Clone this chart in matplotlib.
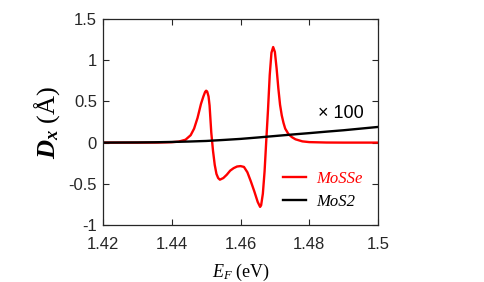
import matplotlib
matplotlib.use('Agg')
import matplotlib.pyplot as plt

# MoSSe 曲线
ef_mosse = [1.420, 1.430, 1.436, 1.440, 1.442, 1.444, 1.4455, 1.4465, 1.4475, 1.4485,
            1.4492, 1.4497, 1.450, 1.4503, 1.4507, 1.451, 1.4515, 1.452, 1.4525, 1.453,
            1.4535, 1.454, 1.455, 1.456, 1.457, 1.458, 1.459, 1.460, 1.461, 1.462,
            1.463, 1.464, 1.465, 1.4657, 1.466, 1.4665, 1.467, 1.4675, 1.468,
            1.4685, 1.469, 1.4695, 1.470, 1.4705, 1.471, 1.4715, 1.472, 1.4725, 1.473,
            1.474, 1.475, 1.476, 1.478, 1.480, 1.485, 1.490, 1.500]
dx_mosse = [0.0, 0.0, 0.001, 0.005, 0.012, 0.035, 0.09, 0.17, 0.30, 0.47,
            0.56, 0.615, 0.63, 0.62, 0.56, 0.45, 0.12, -0.10, -0.27, -0.38,
            -0.43, -0.45, -0.43, -0.39, -0.34, -0.31, -0.29, -0.285, -0.295, -0.36,
            -0.47, -0.59, -0.72, -0.78, -0.76, -0.62, -0.35, 0.03, 0.40,
            0.82, 1.09, 1.16, 1.10, 0.90, 0.66, 0.46, 0.33, 0.24, 0.17,
            0.10, 0.065, 0.04, 0.015, 0.006, 0.001, 0.0, 0.0]

# MoS2 曲线 (x100)
ef_mos2 = [1.420, 1.425, 1.430, 1.435, 1.440, 1.445, 1.450, 1.455, 1.460, 1.465,
           1.470, 1.475, 1.480, 1.485, 1.490, 1.495, 1.500]
dx_mos2 = [0.0, 0.001, 0.002, 0.004, 0.008, 0.013, 0.02, 0.032, 0.045, 0.062,
           0.08, 0.098, 0.115, 0.133, 0.15, 0.17, 0.19]

xticks = [1.42, 1.44, 1.46, 1.48, 1.5]
xtick_labels = ['1.42', '1.44', '1.46', '1.48', '1.5']
yticks = [-1, -0.5, 0, 0.5, 1, 1.5]
ytick_labels = ['-1', '-0.5', '0', '0.5', '1', '1.5']

plt.rcParams['font.family'] = ['Liberation Sans', 'DejaVu Sans']
plt.rcParams['mathtext.fontset'] = 'custom'
plt.rcParams['mathtext.rm'] = 'Liberation Serif'
plt.rcParams['mathtext.it'] = 'Liberation Serif:italic'
plt.rcParams['mathtext.bf'] = 'Liberation Serif:italic:bold'

fig = plt.figure(figsize=(4.85, 2.82), dpi=100)
ax = fig.add_axes([0.2124, 0.2021, 0.567, 0.7305])

ax.plot(ef_mosse, dx_mosse, color='#ff0000', lw=1.7, label='MoSSe')
ax.plot(ef_mos2, dx_mos2, color='black', lw=1.7, label='MoS2')

ax.set_xlim(1.42, 1.5)
ax.set_ylim(-1, 1.5)
ax.set_xticks(xticks)
ax.set_xticklabels(xtick_labels)
ax.set_yticks(yticks)
ax.set_yticklabels(ytick_labels)
ax.tick_params(direction='in', top=True, right=True, length=4, width=0.8,
               labelsize=12, colors='#262626')
ax.tick_params(axis='x', pad=8.5)
ax.tick_params(axis='y', pad=4.3)
for s in ax.spines.values():
    s.set_linewidth(0.9)
    s.set_color('#262626')

ax.text(1.4826, 0.245, '× 100', fontsize=13, ha='left', va='bottom')

ax.set_xlabel(r'$\mathit{E}_{\mathit{F}}\ \mathrm{(eV)}$', fontsize=13, labelpad=7)
ax.set_ylabel(r'$\mathbf{D}_{\mathbf{x}}\ \mathrm{(Å)}$', fontsize=19, labelpad=5)

ax.legend(loc='center left', bbox_to_anchor=(0.655, 0.167), frameon=False,
          borderpad=0, borderaxespad=0, handlelength=1.4, handletextpad=0.6,
          labelspacing=0.4, labelcolor=['#ff0000', 'black'],
          prop={'family': 'Liberation Serif', 'style': 'italic', 'size': 12})

fig.savefig('out.png', dpi=100)
